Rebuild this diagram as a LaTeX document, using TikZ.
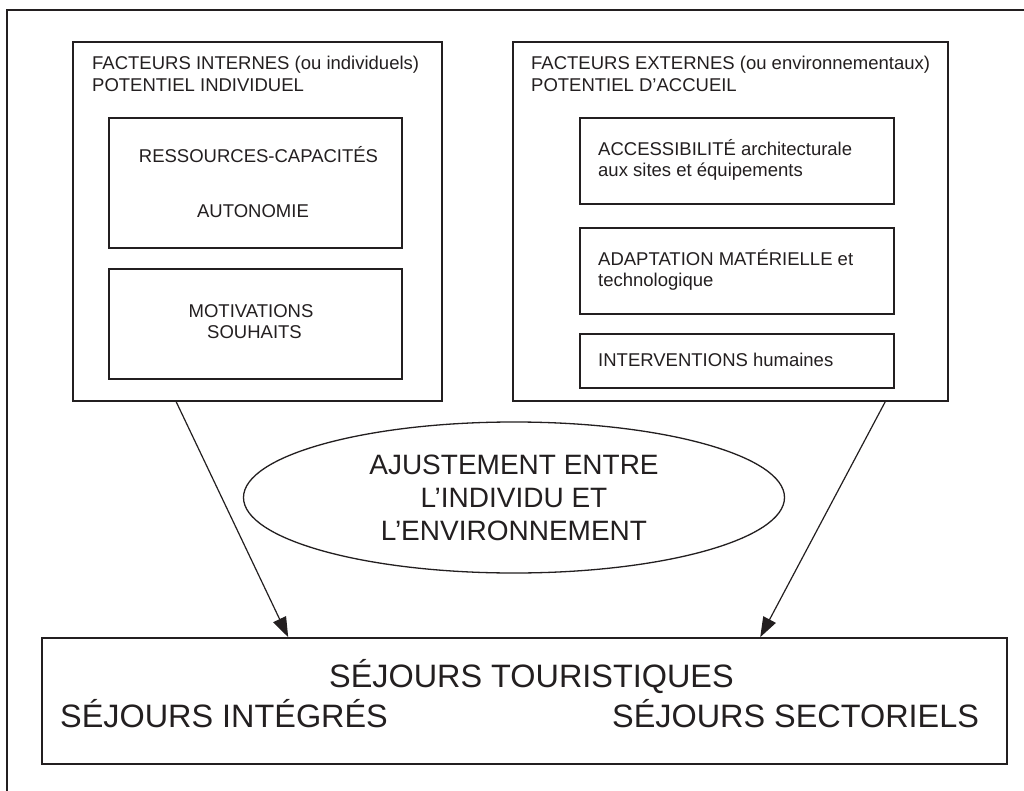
\documentclass[tikz,border=0pt]{standalone}
\usepackage{fontspec}
\setmainfont{Liberation Sans}
\usetikzlibrary{arrows.meta,shapes.geometric,calc}
\definecolor{ink}{RGB}{35,31,32}
\begin{document}
\begin{tikzpicture}[x=1pt,y=-1pt,
  box/.style={draw=ink, line width=1.6pt, rectangle, inner sep=0pt},
  small/.style={text=ink, inner sep=0pt, font=\fontsize{18.5}{21}\selectfont},
  big/.style={text=ink, inner sep=0pt, font=\fontsize{32.4}{40}\selectfont},
  arr/.style={draw=ink, line width=1.2pt, -{Triangle[length=20pt,width=14pt]}},
]
\useasboundingbox (0,0) rectangle (1024,791);
\fill[white] (0,0) rectangle (1024,791);
\draw[ink, line width=1.4pt] (7,791) -- (7,10) -- (1024,10);

% left group
\node[box, minimum width=369pt, minimum height=359pt] (lb) at (257.5,221.5) {};
\node[box, minimum width=293pt, minimum height=130pt] (l1) at (255.5,183) {};
\node[box, minimum width=293pt, minimum height=110pt] (l2) at (255.5,324) {};
\node[small, anchor=base west] (lt1) at (92,70) {FACTEURS INTERNES (ou individuels)};
\node[small, anchor=base west] (lt2) at (92,92) {POTENTIEL INDIVIDUEL};
\node[small, anchor=base] (res) at (258.5,163) {RESSOURCES-CAPACITÉS};
\node[small, anchor=base] (aut) at (253,218) {AUTONOMIE};
\node[small, anchor=base] (mot) at (251,317) {MOTIVATIONS};
\node[small, anchor=base] (sou) at (254.5,338) {SOUHAITS};

% right group
\node[box, minimum width=435pt, minimum height=359pt] (rb) at (730.5,221.5) {};
\node[box, minimum width=314pt, minimum height=86pt] (r1) at (737,161) {};
\node[box, minimum width=314pt, minimum height=86pt] (r2) at (737,271) {};
\node[box, minimum width=314pt, minimum height=54pt] (r3) at (737,361) {};
\node[small, anchor=base west] (rt1) at (531,70) {FACTEURS EXTERNES (ou environnementaux)};
\node[small, anchor=base west] (rt2) at (531,92) {POTENTIEL D’ACCUEIL};
\node[small, anchor=base west] (acc1) at (598,156) {ACCESSIBILITÉ architecturale};
\node[small, anchor=base west] (acc2) at (598,177) {aux sites et équipements};
\node[small, anchor=base west] (ada1) at (598,266) {ADAPTATION MATÉRIELLE et};
\node[small, anchor=base west] (ada2) at (598,287) {technologique};
\node[small, anchor=base west] (int) at (598,366) {INTERVENTIONS humaines};

% ellipse
\node[ellipse, draw=ink, line width=1.3pt, minimum width=541pt, minimum height=151pt,
      inner sep=0pt, align=center, text=ink, font=\fontsize{28}{33}\selectfont]
      (ell) at (514,497.5) {AJUSTEMENT ENTRE\\L’INDIVIDU ET\\L’ENVIRONNEMENT};

% bottom box
\node[box, minimum width=965pt, minimum height=126pt] (sej) at (524.5,701) {};
\node[big, anchor=base west] (st) at (329,687) {SÉJOURS TOURISTIQUES};
\node[big, anchor=base west] (si) at (60,727) {SÉJOURS INTÉGRÉS};
\node[big, anchor=base west] (ss) at (612,727) {SÉJOURS SECTORIELS};

% arrows
\draw[arr] ($(lb.south west)+(104,0)$) -- ($(sej.north west)+(247,0)$);
\draw[arr] ($(rb.south west)+(373,0)$) -- ($(sej.north west)+(719,0)$);
\end{tikzpicture}
\end{document}
